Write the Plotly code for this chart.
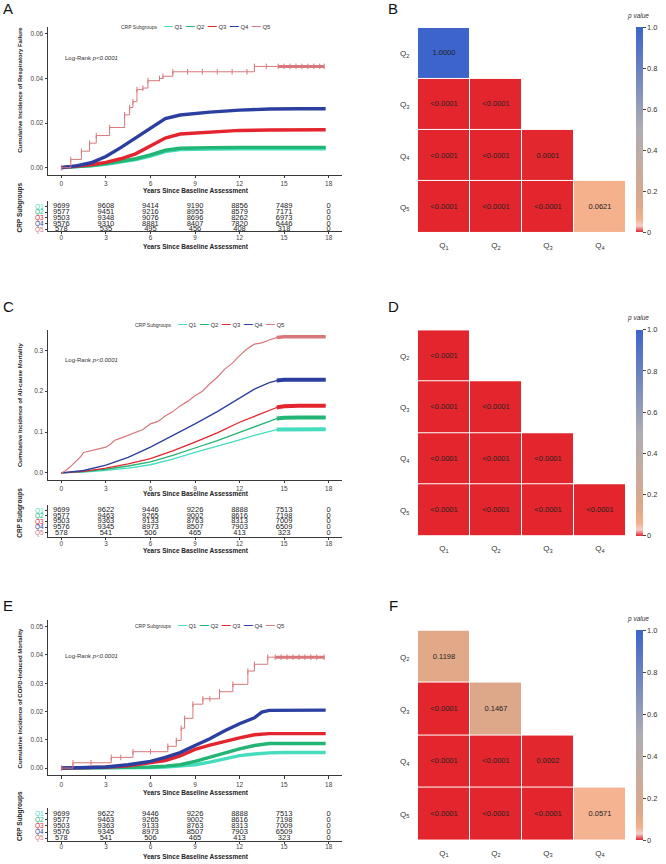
import plotly.graph_objects as go

W, H = 666, 864
def fx(p): return p / W
def fy(p): return 1 - p / H

FONT = "Liberation Sans"
groups = ["Q1", "Q2", "Q3", "Q4", "Q5"]
colors = {"Q1": "#45DDBE", "Q2": "#22B573", "Q3": "#E4252F", "Q4": "#2B3FA0", "Q5": "#D9787C"}
risk_times = [0, 3, 6, 9, 12, 15, 18]

# ---------------- Panel A : respiratory failure ----------------
a_t = [0, 1, 2, 3, 4, 5, 6, 7, 8, 9, 10, 12, 14, 16, 17.8]
a_q1 = [0, 0.0003, 0.0008, 0.0015, 0.0024, 0.0036, 0.0052, 0.0072, 0.0081, 0.0083, 0.0084, 0.0085, 0.0085, 0.0085, 0.0085]
a_q2 = [0, 0.0004, 0.0010, 0.0018, 0.0028, 0.0040, 0.0057, 0.0078, 0.0087, 0.0089, 0.0090, 0.0091, 0.0091, 0.0091, 0.0091]
a_q3 = [0, 0.0005, 0.0013, 0.0024, 0.0040, 0.0062, 0.0097, 0.0133, 0.0151, 0.0155, 0.0158, 0.0167, 0.0169, 0.0170, 0.0170]
a_q4 = [0, 0.0008, 0.0022, 0.0050, 0.0090, 0.0133, 0.0178, 0.0220, 0.0236, 0.0243, 0.0249, 0.0258, 0.0263, 0.0264, 0.0264]
a_q5_t = [0, 0.63, 1.35, 1.9, 2.35, 3.25, 4.26, 4.6, 4.82, 5.09, 5.49, 5.83, 6.61, 6.84, 7.51, 8.5, 9.5, 10.5, 11.5, 12.5,
          13.0, 13.8, 14.6, 15.0, 15.4, 15.8, 16.2, 16.6, 17.0, 17.4, 17.7]
a_q5 = [0, 0.0037, 0.0074, 0.011, 0.0144, 0.018, 0.0237, 0.027, 0.0296, 0.035, 0.0357, 0.039, 0.040, 0.041, 0.043, 0.043,
        0.043, 0.043, 0.043, 0.043, 0.0454, 0.0454, 0.0454, 0.0454, 0.0454, 0.0454, 0.0454, 0.0454, 0.0454, 0.0454, 0.0454]
a_risk = {
    "Q1": [9699, 9608, 9414, 9190, 8856, 7489, 0],
    "Q2": [9577, 9451, 9216, 8955, 8579, 7171, 0],
    "Q3": [9503, 9348, 9076, 8696, 8262, 6973, 0],
    "Q4": [9576, 9310, 8881, 8407, 7820, 6446, 0],
    "Q5": [578, 535, 495, 456, 408, 318, 0],
}

# ---------------- Panel C : all-cause mortality ----------------
c_t = [0, 1.5, 3, 4.5, 6, 7.5, 9, 10.5, 12, 13, 14, 14.5, 15, 16, 17, 17.8]
c_q1 = [0, 0.002, 0.0065, 0.012, 0.020, 0.034, 0.050, 0.065, 0.081, 0.092, 0.101, 0.106, 0.1065, 0.107, 0.107, 0.107]
c_q2 = [0, 0.003, 0.009, 0.017, 0.027, 0.043, 0.061, 0.079, 0.099, 0.112, 0.126, 0.133, 0.135, 0.1355, 0.1358, 0.1358]
c_q3 = [0, 0.004, 0.012, 0.022, 0.035, 0.054, 0.0756, 0.098, 0.124, 0.139, 0.153, 0.160, 0.163, 0.164, 0.164, 0.164]
c_q4 = [0, 0.006, 0.019, 0.038, 0.063, 0.091, 0.120, 0.150, 0.183, 0.205, 0.221, 0.226, 0.2276, 0.2276, 0.2276, 0.2276]
c_q5_t = [0, 0.3, 0.6, 1.0, 1.3, 1.5, 2.0, 2.5, 3.0, 3.3, 3.6, 4.0, 4.5, 5.0, 5.5, 6.0, 6.5, 7.0, 7.5, 8.0, 8.5, 9.0,
          9.5, 10.0, 10.5, 11.0, 11.5, 12.0, 12.5, 13.0, 13.5, 14.0, 14.5, 15.0, 16.0, 17.0, 17.8]
c_q5 = [0, 0.006, 0.015, 0.028, 0.040, 0.050, 0.054, 0.058, 0.063, 0.070, 0.080, 0.085, 0.092, 0.098, 0.106, 0.120,
        0.126, 0.139, 0.150, 0.164, 0.175, 0.189, 0.200, 0.218, 0.234, 0.254, 0.268, 0.287, 0.303, 0.315, 0.318, 0.325,
        0.331, 0.333, 0.333, 0.333, 0.333]
c_risk = {
    "Q1": [9699, 9622, 9446, 9226, 8888, 7513, 0],
    "Q2": [9577, 9463, 9265, 9002, 8616, 7198, 0],
    "Q3": [9503, 9363, 9133, 8763, 8313, 7009, 0],
    "Q4": [9576, 9345, 8973, 8507, 7903, 6509, 0],
    "Q5": [578, 541, 506, 465, 413, 323, 0],
}

# ---------------- Panel E : COPD-induced mortality ----------------
e_t = [0, 3, 4.5, 6, 7, 8, 9, 10, 11, 12, 13, 13.5, 14, 15, 16, 17, 17.8]
e_q1 = [0, 0, 0.0001, 0.0002, 0.0004, 0.0007, 0.0012, 0.0021, 0.0034, 0.0044, 0.0050, 0.0053, 0.0054, 0.0055, 0.0055, 0.0055, 0.0055]
e_q2 = [0, 0.0001, 0.0002, 0.0004, 0.0007, 0.0012, 0.0024, 0.0039, 0.0054, 0.0068, 0.0080, 0.0085, 0.0087, 0.0087, 0.0087, 0.0087, 0.0087]
e_q3 = [0, 0.0003, 0.0008, 0.0018, 0.0027, 0.0043, 0.0066, 0.0081, 0.0095, 0.0107, 0.0118, 0.0121, 0.0122, 0.0122, 0.0122, 0.0122, 0.0122]
e_q4 = [0, 0.0004, 0.0012, 0.0024, 0.0038, 0.0055, 0.0080, 0.0104, 0.0132, 0.0157, 0.0178, 0.0198, 0.0204, 0.0205, 0.0205, 0.0205, 0.0205]
e_q5_t = [0, 0.78, 2.0, 3.36, 4.0, 4.82, 6.0, 7.17, 7.74, 8.07, 8.3, 8.86, 9.53, 10.0, 10.65, 11.55, 12.56, 13.0, 13.9,
          14.4, 14.8, 15.2, 15.6, 16.0, 16.4, 16.8, 17.2, 17.7]
e_q5 = [0, 0.0019, 0.0019, 0.0038, 0.0038, 0.0058, 0.0058, 0.0077, 0.0098, 0.0141, 0.0176, 0.0226, 0.0245, 0.0245,
        0.027, 0.0296, 0.0343, 0.0367, 0.0392, 0.0392, 0.0392, 0.0392, 0.0392, 0.0392, 0.0392, 0.0392, 0.0392, 0.0392]
e_risk = c_risk

# ---------------- Heatmaps (pairwise log-rank p values) ----------------
hm_rows = ["Q<sub>2</sub>", "Q<sub>3</sub>", "Q<sub>4</sub>", "Q<sub>5</sub>"]
hm_cols = ["Q<sub>1</sub>", "Q<sub>2</sub>", "Q<sub>3</sub>", "Q<sub>4</sub>"]
b_labels = [["1.0000"], ["<0.0001", "<0.0001"], ["<0.0001", "<0.0001", "0.0001"],
            ["<0.0001", "<0.0001", "<0.0001", "0.0621"]]
d_labels = [["<0.0001"], ["<0.0001", "<0.0001"], ["<0.0001", "<0.0001", "<0.0001"],
            ["<0.0001", "<0.0001", "<0.0001", "<0.0001"]]
f_labels = [["0.1198"], ["<0.0001", "0.1467"], ["<0.0001", "<0.0001", "0.0002"],
            ["<0.0001", "<0.0001", "<0.0001", "0.0571"]]

colorscale = [[0, "#E3262E"], [0.03, "#F5CFCA"], [0.06, "#F6B08C"], [0.13, "#DFA888"],
              [0.5, "#AEADB4"], [1, "#3C64CA"]]

fig = go.Figure()
layout = dict(width=W, height=H, margin=dict(l=0, r=0, t=0, b=0), paper_bgcolor="white",
              plot_bgcolor="white", font=dict(family=FONT, color="#333"), showlegend=False)
annotations = []

AXC = "#3a3a3a"
XDOM = [fx(48), fx(342)]


def ann(x, y, text, size, **kw):
    d = dict(x=fx(x), y=fy(y), xref="paper", yref="paper", text=text, showarrow=False,
             xanchor="center", yanchor="middle",
             font=dict(family=FONT, size=size, color=kw.pop("color", "#222")))
    d.update(kw)
    annotations.append(d)


def main_axes(n, top, bottom, yr, ytv, yfmt):
    layout[f"xaxis{n}"] = dict(domain=XDOM, range=[-0.9, 18.9], tickvals=risk_times, showline=True,
                               linecolor=AXC, linewidth=1, ticks="outside", ticklen=2.5, tickcolor=AXC,
                               tickfont=dict(size=6.5, color="#444"), showgrid=False, zeroline=False,
                               anchor=f"y{n}")
    layout[f"yaxis{n}"] = dict(domain=[fy(bottom), fy(top)], range=yr, tickvals=ytv, tickformat=yfmt,
                               showline=True, linecolor=AXC, linewidth=1, ticks="outside", ticklen=2.5,
                               tickcolor=AXC, tickfont=dict(size=6.5, color="#444"), showgrid=False,
                               zeroline=False, anchor=f"x{n}")


def table_axes(n, top, bottom, yr):
    layout[f"xaxis{n}"] = dict(domain=XDOM, range=[-0.9, 18.9], tickvals=risk_times, showline=True,
                               linecolor=AXC, linewidth=1, ticks="outside", ticklen=2, tickcolor=AXC,
                               tickfont=dict(size=6.3, color="#444"), showgrid=False, zeroline=False,
                               ticklabelstandoff=-2, anchor=f"y{n}")
    layout[f"yaxis{n}"] = dict(domain=[fy(bottom), fy(top)], range=yr, tickvals=[5, 4, 3, 2, 1],
                               ticktext=[f"<span style='color:{colors[g]}'>{g}</span>" for g in groups],
                               showline=True, linecolor=AXC, linewidth=1, ticks="outside", ticklen=2,
                               tickcolor=AXC, tickfont=dict(size=6.5), showgrid=False, zeroline=False,
                               anchor=f"x{n}")


def heat_axes(n, top, bottom):
    layout[f"xaxis{n}"] = dict(domain=[fx(418), fx(626)], range=[-0.5, 3.5], tickvals=[0, 1, 2, 3],
                               ticktext=hm_cols, showline=False, ticks="outside", ticklen=5,
                               tickcolor="rgba(0,0,0,0)", tickfont=dict(size=8, color="#333"),
                               showgrid=False, zeroline=False, anchor=f"y{n}")
    layout[f"yaxis{n}"] = dict(domain=[fy(bottom), fy(top)], range=[3.5, -0.5], tickvals=[0, 1, 2, 3],
                               ticktext=hm_rows, showline=False, ticks="outside", ticklen=6,
                               tickcolor="rgba(0,0,0,0)", tickfont=dict(size=8, color="#333"),
                               showgrid=False, zeroline=False, anchor=f"x{n}")


def add_line(t, y, color, n, width, shape="linear", thick_from=None, thick_w=4.0, marks=False):
    tr = dict(x=t, y=y, line=dict(color=color, width=width, shape=shape), xaxis=f"x{n}",
              yaxis=f"y{n}", hoverinfo="skip", showlegend=False)
    if marks:
        tr["mode"] = "lines+markers"
        tr["marker"] = dict(symbol="line-ns-open", size=4, line=dict(color=color, width=1))
    else:
        tr["mode"] = "lines"
    fig.add_trace(go.Scatter(**tr))
    if thick_from is not None:
        tt = [a for a in t if a >= thick_from]
        yy = [b for a, b in zip(t, y) if a >= thick_from]
        fig.add_trace(go.Scatter(x=tt, y=yy, mode="lines", line=dict(color=color, width=thick_w, shape=shape),
                                 xaxis=f"x{n}", yaxis=f"y{n}", hoverinfo="skip", showlegend=False))


def add_table(risk, n):
    for i, g in enumerate(groups):
        fig.add_trace(go.Scatter(x=risk_times, y=[5 - i] * len(risk_times), mode="text",
                                 text=[str(v) for v in risk[g]], textfont=dict(size=7.5, color="#222", family=FONT),
                                 xaxis=f"x{n}", yaxis=f"y{n}", hoverinfo="skip", showlegend=False,
                                 cliponaxis=False))


def add_heat(labels, n, top, bottom):
    z = []
    tx, ty, tt = [], [], []
    for i, row in enumerate(labels):
        vals = [0.0 if s.startswith("<") else float(s) for s in row]
        z.append(vals + [None] * (4 - len(vals)))
        for j, s in enumerate(row):
            tx.append(j)
            ty.append(i)
            tt.append(s.replace("<", "&lt;"))
    fig.add_trace(go.Heatmap(z=z, x=[0, 1, 2, 3], y=[0, 1, 2, 3], colorscale=colorscale,
                             zmin=0, zmax=1, xgap=1, ygap=1, hoverinfo="skip", xaxis=f"x{n}", yaxis=f"y{n}",
                             colorbar=dict(x=fx(636), xanchor="left", xpad=0, ypad=0, y=fy(bottom),
                                           yanchor="bottom", len=(bottom - top) / H, lenmode="fraction",
                                           thickness=7, thicknessmode="pixels", outlinewidth=0,
                                           tickvals=[0, 0.2, 0.4, 0.6, 0.8, 1.0],
                                           ticktext=["0", "0.2", "0.4", "0.6", "0.8", "1.0"],
                                           ticks="outside", ticklen=3, tickcolor="#444",
                                           tickfont=dict(size=7.5, color="#333", family=FONT))))
    fig.add_trace(go.Scatter(x=tx, y=ty, text=tt, mode="text", textfont=dict(size=7.5, color="#222", family=FONT),
                             xaxis=f"x{n}", yaxis=f"y{n}", hoverinfo="skip", showlegend=False))
    ann(638, top - 12, "<i>p value</i>", 6.5, color="#333")


def legend_ann(xc, y):
    parts = ["<span style='font-size:5px'>CRP Subgroups</span>  "]
    for g in groups:
        parts.append(f"  <span style='color:{colors[g]};font-size:9px'><b>—</b></span> {g}")
    ann(xc, y, "".join(parts), 6, color="#333")


# ---- Panel A
main_axes("", 27, 175, [-0.0031, 0.0631], [0, 0.02, 0.04, 0.06], ".2f")
for g, arr in zip(groups[:4], [a_q1, a_q2, a_q3, a_q4]):
    add_line(a_t, arr, colors[g], "", 3.4)
add_line(a_q5_t, a_q5, colors["Q5"], "", 1.0, shape="hv", thick_from=14.6, thick_w=3.0, marks=True)
table_axes(2, 201, 232, [0.655, 5.98])
add_table(a_risk, 2)

# ---- Panel B
heat_axes(3, 28, 233)
add_heat(b_labels, 3, 28, 233)

# ---- Panel C
main_axes(4, 331, 481, [-0.017, 0.349], [0, 0.1, 0.2, 0.3], ".1f")
for g, arr in zip(groups[:4], [c_q1, c_q2, c_q3, c_q4]):
    add_line(c_t, arr, colors[g], 4, 1.3, thick_from=14.5, thick_w=4.0)
add_line(c_q5_t, c_q5, colors["Q5"], 4, 1.2, thick_from=14.5, thick_w=3.5)
table_axes(5, 506, 538.3, [0.23, 6.0])
add_table(c_risk, 5)

# ---- Panel D
heat_axes(6, 331, 537)
add_heat(d_labels, 6, 331, 537)

# ---- Panel E
main_axes(7, 621, 777, [-0.0025, 0.0525], [0, 0.01, 0.02, 0.03, 0.04, 0.05], ".2f")
for g, arr in zip(groups[:4], [e_q1, e_q2, e_q3, e_q4]):
    add_line(e_t, arr, colors[g], 7, 3.4)
add_line(e_q5_t, e_q5, colors["Q5"], 7, 1.0, shape="hv", thick_from=14.0, thick_w=3.0, marks=True)
table_axes(8, 810, 842.7, [0.56, 5.95])
add_table(e_risk, 8)

# ---- Panel F
heat_axes(9, 632, 842)
add_heat(f_labels, 9, 632, 842)

# ---- text annotations
for lab, x, y in [("A", 8, 9), ("B", 393, 9), ("C", 8, 307), ("D", 393, 307), ("E", 8, 607), ("F", 393, 607)]:
    ann(x, y, lab, 15, color="#111")

ann(20, 90, "<b>Cumulative Incidence of Respiratory Failure</b>", 6, textangle=-90)
ann(20, 406, "<b>Cumulative Incidence of All-cause Mortality</b>", 6, textangle=-90)
ann(20, 700, "<b>Cumulative Incidence of COPD-Induced Mortality</b>", 6, textangle=-90)
for y in [208, 514, 818]:
    ann(20, y, "<b>CRP Subgroups</b>", 6.5, textangle=-90)
for y, yy in [(191, 0), (247, 0), (495, 0), (552, 0), (794, 0), (858.5, 0)]:
    ann(196, y + yy, "<b>Years Since Baseline Assessment</b>", 6.5)
for y in [58, 361, 658]:
    ann(63, y, "Log-Rank <i>p&lt;0.0001</i>", 6, xanchor="left", color="#333")
legend_ann(196, 26)
legend_ann(210, 325)
legend_ann(210, 626)

layout["annotations"] = annotations
fig.update_layout(**layout)
fig.write_html("out.html")
